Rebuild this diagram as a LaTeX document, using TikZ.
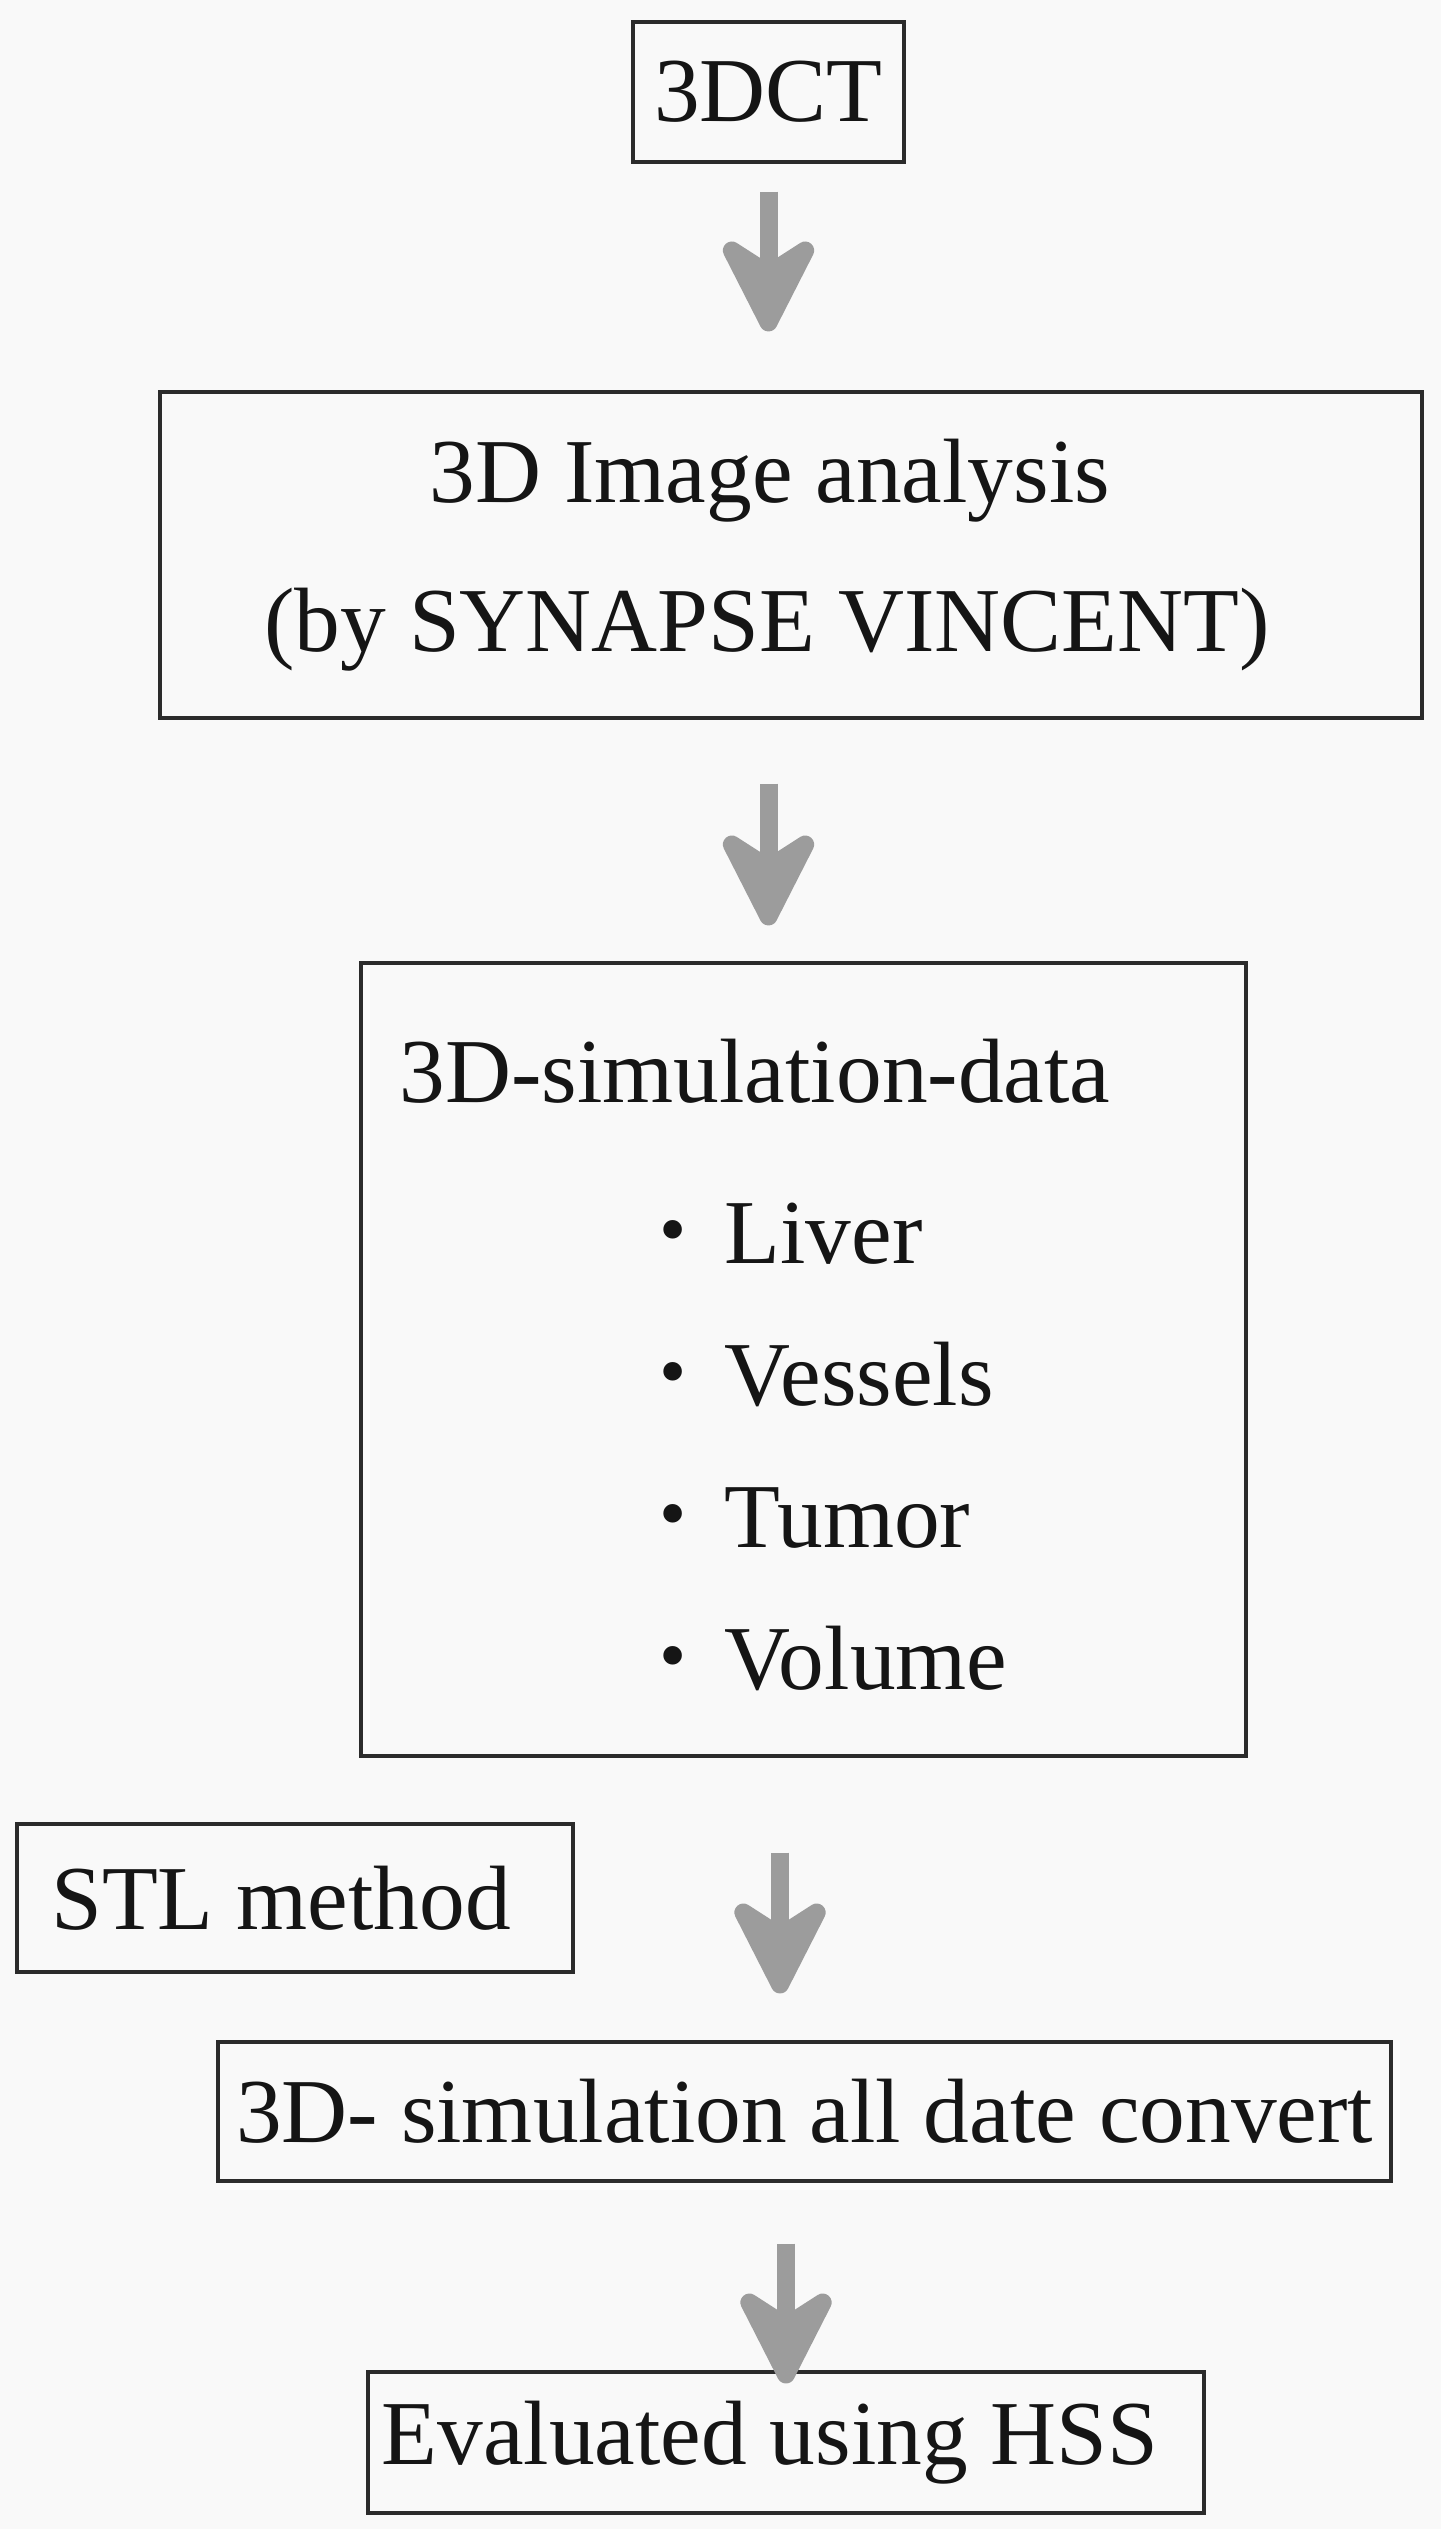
\documentclass[tikz,border=0pt]{standalone}
\usepackage{fontspec}
\setmainfont{Liberation Serif}
\usetikzlibrary{arrows.meta}
\definecolor{pagebg}{HTML}{F9F9F9}
\definecolor{frame}{HTML}{2B2B2B}
\definecolor{ink}{HTML}{151515}
\definecolor{arrowgray}{HTML}{9C9C9C}
\newcommand{\listdot}{\makebox[0.65cm][l]{\raisebox{.08cm}{\scalebox{.85}{•}}}}

\begin{document}
\begin{tikzpicture}[
  x=1cm,y=-1cm,
  font=\fontsize{26}{42.5}\selectfont, text=ink,
  box/.style={draw=frame,line width=.9pt,inner sep=0pt,align=center,minimum width=#1},
  leftpad/.style={execute at end node={\kern#1}},
  txt/.style={inner sep=0pt,anchor=base west},
  flow/.style={draw=arrowgray,line width=.18cm,
    -{Stealth[length=1.16cm,width=1.17cm,inset=.37cm,round]}}
]
\fill[pagebg] (0,0) rectangle (14.41,25.29);
\useasboundingbox (0,0) rectangle (14.41,25.29);

\node[box=2.71cm,minimum height=1.40cm] (dct) at (7.685,.92) {3DCT};
\node[box=12.62cm,minimum height=3.26cm] (analysis) at (7.91,5.55) {
  3D Image analysis\kern.42cm\\
  (by SYNAPSE VINCENT)\kern.48cm
};
\node[box=8.85cm,minimum height=7.93cm] (simdata) at (8.035,13.595) {};
\node[txt] (simhead) at (3.99,11.02) {3D-simulation-data};
\node[txt] (liver) at (6.59,12.63) {\listdot Liver};
\node[txt] (vessels) at (6.59,14.05) {\listdot Vessels};
\node[txt] (tumor) at (6.59,15.47) {\listdot Tumor};
\node[txt] (volume) at (6.59,16.89) {\listdot Volume};

\node[box=5.56cm,minimum height=1.48cm,leftpad=.28cm] (stl) at (2.95,18.98) {STL method};
\node[box=11.73cm,minimum height=1.39cm] (convert) at (8.045,21.115) {3D- simulation all date convert};
\node[box=8.36cm,minimum height=1.41cm,leftpad=.32cm] (evaluate) at (7.86,24.425) {Evaluated using HSS};

\draw[flow,shorten <=.28cm,shorten >=.59cm] (dct.south) -- (dct.south |- analysis.north);
\draw[flow,shorten <=.64cm,shorten >=.36cm] (analysis.south -| dct.south) -- (simdata.north -| dct.south);
\draw[flow,shorten <=.95cm,shorten >=.47cm] ([xshift=-.235cm]simdata.south) -- ([xshift=-.235cm]simdata.south |- convert.north);
\draw[flow,shorten <=.61cm,shorten >=-.13cm] (convert.south -| evaluate.north) -- (evaluate.north);

\end{tikzpicture}
\end{document}
